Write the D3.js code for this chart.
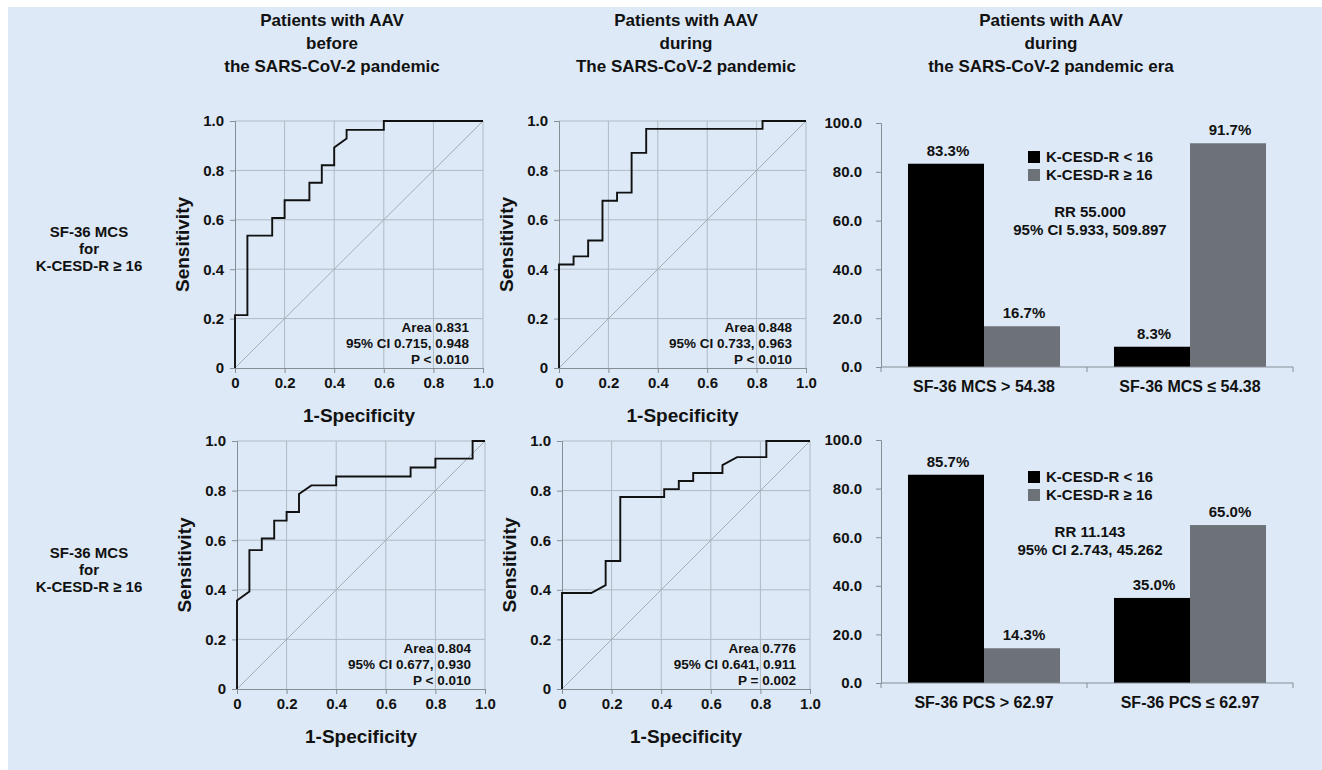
<!DOCTYPE html>
<html lang="en">
<head>
    <meta charset="UTF-8">
    <title>ROC curves and relative risk</title>
    <script src="https://cdn.jsdelivr.net/npm/d3@7/dist/d3.min.js"></script>
    <style>
        body { margin: 0; background: #ffffff; }
        text { font-family: "Liberation Sans", Arial, sans-serif; font-weight: bold; fill: #111111; }
    </style>
</head>
<body>
<div id="mainContent"></div>
<script>
    // ---- data ----
    const columnTitles = [
        ["Patients with AAV", "before", "the SARS-CoV-2 pandemic"],
        ["Patients with AAV", "during", "The SARS-CoV-2 pandemic"],
        ["Patients with AAV", "during", "the SARS-CoV-2 pandemic era"]
    ];
    const rowLabel = ["SF-36 MCS", "for", "K-CESD-R \u2265 16"];

    // ROC curves: [1-specificity, sensitivity]
    const rocBeforeMcs = [[0, 0], [0, 0.214], [0.05, 0.214], [0.05, 0.536], [0.15, 0.536], [0.15, 0.607],
        [0.2, 0.607], [0.2, 0.679], [0.3, 0.679], [0.3, 0.75], [0.35, 0.75], [0.35, 0.821], [0.4, 0.821],
        [0.4, 0.893], [0.45, 0.929], [0.45, 0.964], [0.6, 0.964], [0.6, 1], [1, 1]];
    const rocDuringMcs = [[0, 0], [0, 0.419], [0.059, 0.419], [0.059, 0.452], [0.118, 0.452], [0.118, 0.516],
        [0.176, 0.516], [0.176, 0.677], [0.235, 0.677], [0.235, 0.71], [0.294, 0.71], [0.294, 0.871],
        [0.353, 0.871], [0.353, 0.968], [0.824, 0.968], [0.824, 1], [1, 1]];
    const rocBeforePcs = [[0, 0], [0, 0.357], [0.05, 0.393], [0.05, 0.56], [0.1, 0.56], [0.1, 0.607],
        [0.15, 0.607], [0.15, 0.679], [0.2, 0.679], [0.2, 0.714], [0.25, 0.714], [0.25, 0.786], [0.3, 0.821],
        [0.4, 0.821], [0.4, 0.857], [0.7, 0.857], [0.7, 0.893], [0.8, 0.893], [0.8, 0.929], [0.95, 0.929],
        [0.95, 1], [1, 1]];
    const rocDuringPcs = [[0, 0], [0, 0.387], [0.118, 0.387], [0.176, 0.419], [0.176, 0.516], [0.235, 0.516],
        [0.235, 0.774], [0.412, 0.774], [0.412, 0.806], [0.471, 0.806], [0.471, 0.839], [0.529, 0.839],
        [0.529, 0.871], [0.647, 0.871], [0.647, 0.903], [0.706, 0.935], [0.824, 0.935], [0.824, 1], [1, 1]];

    const rocStats = [
        ["Area 0.831", "95% CI 0.715, 0.948", "P < 0.010"],
        ["Area 0.848", "95% CI 0.733, 0.963", "P < 0.010"],
        ["Area 0.804", "95% CI 0.677, 0.930", "P < 0.010"],
        ["Area 0.776", "95% CI 0.641, 0.911", "P = 0.002"]
    ];
    const rocTicks = [0, 0.2, 0.4, 0.6, 0.8, 1.0];

    const legendLabels = ["K-CESD-R < 16", "K-CESD-R \u2265 16"];
    const mcsCategories = ["SF-36 MCS > 54.38", "SF-36 MCS \u2264 54.38"];
    const mcsLow = [83.3, 8.3];    // K-CESD-R < 16
    const mcsHigh = [16.7, 91.7];  // K-CESD-R >= 16
    const mcsRR = ["RR 55.000", "95% CI 5.933, 509.897"];
    const pcsCategories = ["SF-36 PCS > 62.97", "SF-36 PCS \u2264 62.97"];
    const pcsLow = [85.7, 35.0];
    const pcsHigh = [14.3, 65.0];
    const pcsRR = ["RR 11.143", "95% CI 2.743, 45.262"];
    const barTicks = [0, 20, 40, 60, 80, 100];

    // ---- drawing ----
    const W = 1322, H = 770;
    const gridColor = "#b0bac5", axisColor = "#878e96";
    const lowColor = "#000000", highColor = "#6c7278";

    let svg = d3.select("#mainContent").append("svg")
        .attr("width", W)
        .attr("height", H);

    svg.append("rect")
        .attr("x", 8).attr("y", 7)
        .attr("width", W - 8).attr("height", H - 7)
        .attr("fill", "#dde9f6");

    // column titles
    const titleX = [332, 686, 1051];
    columnTitles.forEach((lines, i) => {
        lines.forEach((line, j) => {
            svg.append("text").text(line)
                .attr("x", titleX[i]).attr("y", 26 + j * 23)
                .attr("text-anchor", "middle")
                .attr("font-size", 17);
        });
    });

    // row labels
    [232, 553].forEach(cy => {
        rowLabel.forEach((line, j) => {
            svg.append("text").text(line)
                .attr("x", 89).attr("y", cy + 5 + j * 17)
                .attr("text-anchor", "middle")
                .attr("font-size", 15);
        });
    });

    function styleAxis(axisNodes) {
        axisNodes.select(".domain").attr("stroke", axisColor);
        axisNodes.selectAll(".tick line").attr("stroke", axisColor);
        axisNodes.selectAll(".tick text")
            .attr("fill", "#111111")
            .attr("font-family", "'Liberation Sans', Arial, sans-serif")
            .attr("font-weight", "bold");
    }

    function drawRoc(box, points, stats) {
        const xScale = d3.scaleLinear().domain([0, 1]).range([box.x0, box.x1]);
        const yScale = d3.scaleLinear().domain([0, 1]).range([box.y1, box.y0]);
        const g = svg.append("g");

        // grid
        g.selectAll(".hgrid").data(rocTicks.slice(1)).enter()
            .append("line")
            .attr("x1", box.x0).attr("x2", box.x1)
            .attr("y1", d => yScale(d)).attr("y2", d => yScale(d))
            .attr("stroke", gridColor).attr("stroke-width", 1);
        g.selectAll(".vgrid").data(rocTicks.slice(1)).enter()
            .append("line")
            .attr("y1", box.y0).attr("y2", box.y1)
            .attr("x1", d => xScale(d)).attr("x2", d => xScale(d))
            .attr("stroke", gridColor).attr("stroke-width", 1);

        // reference diagonal
        g.append("line")
            .attr("x1", xScale(0)).attr("y1", yScale(0))
            .attr("x2", xScale(1)).attr("y2", yScale(1))
            .attr("stroke", "#a4adb6").attr("stroke-width", 1);

        const fmt = d => d === 0 ? "0" : d3.format(".1f")(d);
        const xAxisNodes = g.append("g")
            .attr("transform", "translate(0," + box.y1 + ")")
            .call(d3.axisBottom(xScale).tickValues(rocTicks).tickFormat(fmt).tickSize(5).tickPadding(4))
            .attr("font-size", 15);
        styleAxis(xAxisNodes);
        const yAxisNodes = g.append("g")
            .attr("transform", "translate(" + box.x0 + ",0)")
            .call(d3.axisLeft(yScale).tickValues(rocTicks).tickFormat(fmt).tickSize(5).tickPadding(6))
            .attr("font-size", 15);
        styleAxis(yAxisNodes);

        // curve
        const line = d3.line().x(d => xScale(d[0])).y(d => yScale(d[1]));
        g.append("path")
            .attr("d", line(points))
            .attr("fill", "none")
            .attr("stroke", "#111111")
            .attr("stroke-width", 1.9);

        // axis titles
        g.append("text").text("Sensitivity")
            .attr("transform", "translate(" + (box.x0 - 46) + "," + ((box.y0 + box.y1) / 2) + ") rotate(-90)")
            .attr("text-anchor", "middle")
            .attr("font-size", 19);
        g.append("text").text("1-Specificity")
            .attr("x", (box.x0 + box.x1) / 2).attr("y", box.y1 + 54)
            .attr("text-anchor", "middle")
            .attr("font-size", 19);

        // stats
        stats.forEach((s, i) => {
            g.append("text").text(s)
                .attr("x", box.x1 - 14).attr("y", box.y1 - 36 + i * 16)
                .attr("text-anchor", "end")
                .attr("font-size", 13.5);
        });
    }

    drawRoc({x0: 235, x1: 483, y0: 121, y1: 368}, rocBeforeMcs, rocStats[0]);
    drawRoc({x0: 559, x1: 806, y0: 121, y1: 368}, rocDuringMcs, rocStats[1]);
    drawRoc({x0: 237, x1: 485, y0: 441, y1: 689}, rocBeforePcs, rocStats[2]);
    drawRoc({x0: 562, x1: 810, y0: 441, y1: 689}, rocDuringPcs, rocStats[3]);

    function drawBars(box, categories, low, high, rr, legendY, rrY) {
        const xScale = d3.scaleBand().domain(categories).range([box.x0, box.x1])
            .paddingInner(0.262).paddingOuter(0.131);
        const subScale = d3.scaleBand().domain(["low", "high"]).range([0, xScale.bandwidth()]);
        const yScale = d3.scaleLinear().domain([0, 100]).range([box.y1, box.y0]);
        const g = svg.append("g");

        const rows = categories.map((c, i) => ({cat: c, low: low[i], high: high[i]}));
        const groups = g.selectAll(".grp").data(rows).enter()
            .append("g")
            .attr("transform", d => "translate(" + xScale(d.cat) + ",0)");
        const bars = groups.selectAll("rect")
            .data(d => [{key: "low", v: d.low}, {key: "high", v: d.high}])
            .enter();
        bars.append("rect")
            .attr("x", d => subScale(d.key))
            .attr("width", subScale.bandwidth())
            .attr("y", d => yScale(d.v))
            .attr("height", d => yScale(0) - yScale(d.v))
            .attr("fill", d => d.key === "low" ? lowColor : highColor);
        bars.append("text")
            .text(d => d3.format(".1f")(d.v) + "%")
            .attr("x", d => subScale(d.key) + subScale.bandwidth() / 2 + 2)
            .attr("y", d => yScale(d.v) - 8)
            .attr("text-anchor", "middle")
            .attr("font-size", 15);

        // y axis
        const yAxisNodes = g.append("g")
            .attr("transform", "translate(" + box.x0 + ",0)")
            .call(d3.axisLeft(yScale).tickValues(barTicks).tickFormat(d3.format(".1f")).tickSize(5).tickPadding(14))
            .attr("font-size", 15);
        styleAxis(yAxisNodes);

        // x axis: line with ticks at category boundaries
        const step = xScale.step();
        const bounds = [0, 1, 2].map(i => box.x0 + i * step);
        g.append("line")
            .attr("x1", box.x0).attr("x2", box.x1)
            .attr("y1", box.y1).attr("y2", box.y1)
            .attr("stroke", axisColor);
        g.selectAll(".btick").data(bounds).enter()
            .append("line")
            .attr("x1", d => d).attr("x2", d => d)
            .attr("y1", box.y1).attr("y2", box.y1 + 5)
            .attr("stroke", axisColor);
        g.selectAll(".clabel").data(categories).enter()
            .append("text").text(d => d)
            .attr("x", d => xScale(d) + xScale.bandwidth() / 2)
            .attr("y", box.y1 + 25)
            .attr("text-anchor", "middle")
            .attr("font-size", 16);

        // legend
        legendLabels.forEach((lab, i) => {
            g.append("rect")
                .attr("x", 1028).attr("y", legendY + i * 18)
                .attr("width", 12).attr("height", 12)
                .attr("fill", i === 0 ? lowColor : highColor);
            g.append("text").text(lab)
                .attr("x", 1046).attr("y", legendY + 11 + i * 18)
                .attr("font-size", 15);
        });

        rr.forEach((t, i) => {
            g.append("text").text(t)
                .attr("x", 1090).attr("y", rrY + i * 18)
                .attr("text-anchor", "middle")
                .attr("font-size", 15);
        });
    }

    drawBars({x0: 881, x1: 1293, y0: 123, y1: 367}, mcsCategories, mcsLow, mcsHigh, mcsRR, 151, 217);
    drawBars({x0: 881, x1: 1293, y0: 440, y1: 683}, pcsCategories, pcsLow, pcsHigh, pcsRR, 471, 537);
</script>
</body>
</html>
